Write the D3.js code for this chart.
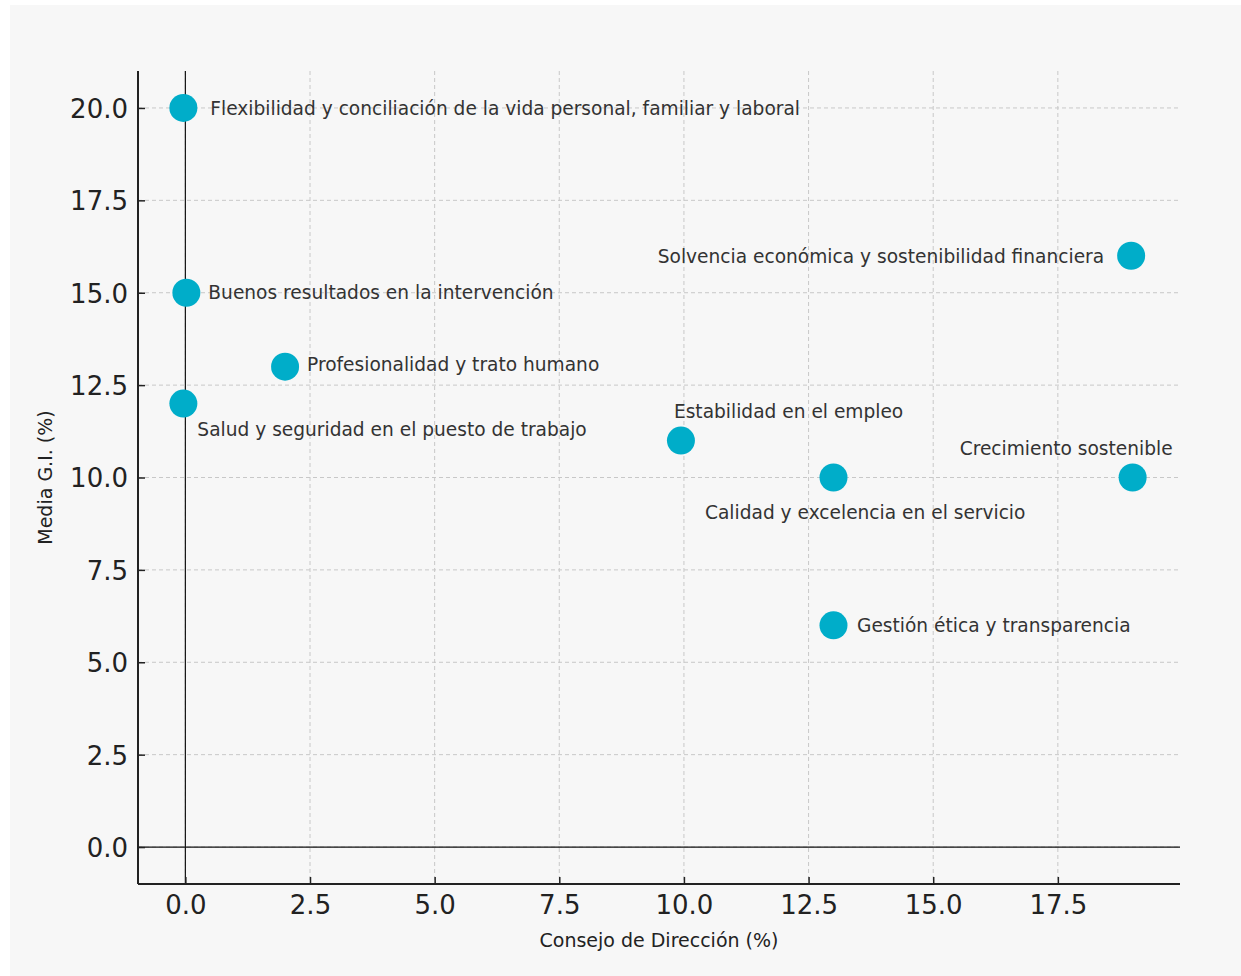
<!DOCTYPE html>
<html><head><meta charset="utf-8">
<script src="https://cdn.jsdelivr.net/npm/d3@7"></script>
<style>
html,body{margin:0;padding:0;background:#ffffff;}
svg text{font-family:"DejaVu Sans",sans-serif;}
</style></head>
<body>
<svg id="chart" width="1241" height="976"></svg>
<script>
// ---- data ----
const categories = [
  "Flexibilidad y conciliación de la vida personal, familiar y laboral",
  "Buenos resultados en la intervención",
  "Profesionalidad y trato humano",
  "Salud y seguridad en el puesto de trabajo",
  "Estabilidad en el empleo",
  "Calidad y excelencia en el servicio",
  "Crecimiento sostenible",
  "Gestión ética y transparencia",
  "Solvencia económica y sostenibilidad financiera"
];
const consejoValues = [-0.04, 0.02, 2.0, -0.04, 9.94, 13.0, 19.0, 13.0, 18.97];
const mediaValues   = [20, 15, 13, 12, 11, 10, 10, 6, 16];
const xTicks = [0, 2.5, 5, 7.5, 10, 12.5, 15, 17.5];
const yTicks = [0, 2.5, 5, 7.5, 10, 12.5, 15, 17.5, 20];
const xLabel = "Consejo de Dirección (%)";
const yLabel = "Media G.I. (%)";

// label layout (pixel offsets from the point, anchor)
const labelLayout = [
  {dx: 27, dy: 0, anchor: "start"},
  {dx: 22, dy: 0, anchor: "start"},
  {dx: 22, dy: -2, anchor: "start"},
  {dx: 14, dy: 26, anchor: "start"},
  {dx: -7, dy: -29, anchor: "start"},
  {dx: -128.5, dy: 35, anchor: "start"},
  {dx: 40, dy: -29, anchor: "end"},
  {dx: 23.5, dy: 0, anchor: "start"},
  {dx: -27, dy: 1, anchor: "end"}
];

const svg = d3.select("#chart");
svg.append("rect").attr("x", 10).attr("y", 5).attr("width", 1231).attr("height", 971).attr("fill", "#f7f7f7");

const L = 138, R = 1180, T = 71, B = 884;
const x = d3.scaleLinear().domain([-0.95, 19.95]).range([L, R]);
const y = d3.scaleLinear().domain([-1, 21]).range([B, T]);

// grid
const grid = svg.append("g");
grid.selectAll("line.vg").data(xTicks).join("line")
  .attr("x1", d => x(d)).attr("x2", d => x(d)).attr("y1", T).attr("y2", B)
  .attr("stroke", "#c8c8c8").attr("stroke-width", 1).attr("stroke-dasharray", "4,3");
grid.selectAll("line.hg").data(yTicks).join("line")
  .attr("y1", d => y(d)).attr("y2", d => y(d)).attr("x1", L).attr("x2", R)
  .attr("stroke", "#c8c8c8").attr("stroke-width", 1).attr("stroke-dasharray", "4,3");

// reference lines at 0
svg.append("line").attr("x1", x(0)).attr("x2", x(0)).attr("y1", T).attr("y2", B)
  .attr("stroke", "#111").attr("stroke-width", 1.2);
svg.append("line").attr("x1", L).attr("x2", R).attr("y1", y(0)).attr("y2", y(0))
  .attr("stroke", "#111").attr("stroke-width", 1.2);

// axes
const xAxis = svg.append("g").attr("transform", `translate(0,${B})`)
  .call(d3.axisBottom(x).tickValues(xTicks).tickFormat(d3.format(".1f")).tickSizeInner(-7).tickSizeOuter(0).tickPadding(12));
const yAxis = svg.append("g").attr("transform", `translate(${L},0)`)
  .call(d3.axisLeft(y).tickValues(yTicks).tickFormat(d3.format(".1f")).tickSizeInner(-7).tickSizeOuter(0).tickPadding(10));
[xAxis, yAxis].forEach(a => {
  a.select(".domain").attr("stroke", "#222").attr("stroke-width", 2);
  a.selectAll(".tick line").attr("stroke", "#222").attr("stroke-width", 1.5);
  a.selectAll(".tick text").attr("fill", "#222").style("font-size", "26px").style("font-family", "DejaVu Sans");
});
xAxis.select(".domain").attr("d", `M${L},0H${R}`);
yAxis.select(".domain").attr("d", `M0,${B}V${T}`);
yAxis.selectAll(".tick text").attr("dy", "0.36em");

// axis titles
svg.append("text").attr("x", (L + R) / 2).attr("y", 947).attr("text-anchor", "middle")
  .style("font-size", "19px").attr("fill", "#222").text(xLabel);
svg.append("text").attr("transform", `translate(52,${(T + B) / 2}) rotate(-90)`).attr("text-anchor", "middle")
  .style("font-size", "19px").attr("fill", "#222").text(yLabel);

// points
const pts = categories.map((c, i) => ({c, x: consejoValues[i], y: mediaValues[i], l: labelLayout[i]}));
svg.append("g").selectAll("circle").data(pts).join("circle")
  .attr("cx", d => x(d.x)).attr("cy", d => y(d.y)).attr("r", 14).attr("fill", "#00adc9");

// labels
svg.append("g").selectAll("text").data(pts).join("text")
  .attr("x", d => x(d.x) + d.l.dx).attr("y", d => y(d.y) + d.l.dy)
  .attr("dy", "0.36em").attr("text-anchor", d => d.l.anchor)
  .style("font-size", "18.6px").attr("fill", "#333").text(d => d.c);
</script>
</body></html>
